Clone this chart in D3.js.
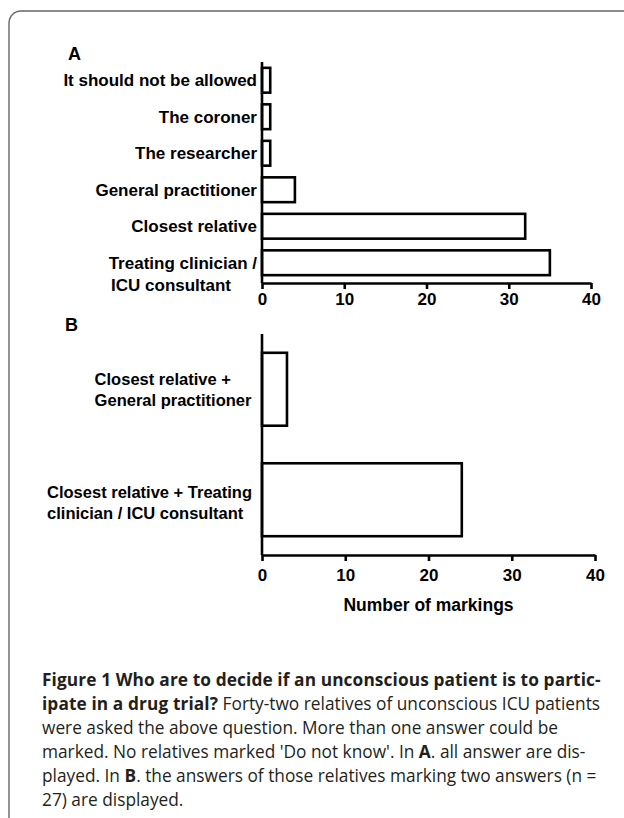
<!DOCTYPE html>
<html><head><meta charset="utf-8">
<script src="https://cdn.jsdelivr.net/npm/d3@7/dist/d3.min.js"></script>
<style>
html,body{margin:0;padding:0;background:#fff;}
svg{display:block;}
</style></head><body>
<svg id="chart" width="624" height="818"></svg>
<script>
// ---- data ----
const categoriesA = ["It should not be allowed","The coroner","The researcher","General practitioner","Closest relative","Treating clinician / ICU consultant"];
const labelLinesA = [["It should not be allowed"],["The coroner"],["The researcher"],["General practitioner"],["Closest relative"],["Treating clinician /","ICU consultant"]];
const valuesA = [1,1,1,4,32,35];
const categoriesB = ["Closest relative + General practitioner","Closest relative + Treating clinician / ICU consultant"];
const labelLinesB = [["Closest relative +","General practitioner"],["Closest relative + Treating","clinician / ICU consultant"]];
const valuesB = [3,24];
const xTicks = [0,10,20,30,40];
const xDomain = [0,40];
const panelLabels = ["A","B"];
const axisTitle = "Number of markings";
const captionLines = [
  [["Figure 1 Who are to decide if an unconscious patient is to partic-",true]],
  [["ipate in a drug trial?",true],[" Forty-two relatives of unconscious ICU patients",false]],
  [["were asked the above question. More than one answer could be",false]],
  [["marked. No relatives marked 'Do not know'. In ",false],["A",true],[". all answer are dis-",false]],
  [["played. In ",false],["B",true],[". the answers of those relatives marking two answers (n =",false]],
  [["27) are displayed.",false]]
];

// ---- drawing ----
const svg = d3.select("#chart");
const chartFont = "'Liberation Sans', Arial, Helvetica, sans-serif";
const capFont = "'Open Sans', 'Noto Sans', sans-serif";

// frame (rounded top-left corner)
svg.append("path")
  .attr("d", "M9,818 L9,23 A12,12 0 0 1 21,11 L624,11")
  .attr("fill","none").attr("stroke","#666").attr("stroke-width",1.4);

function drawPanel(opts){
  const g = svg.append("g");
  const x = d3.scaleLinear().domain(xDomain).range(opts.xRange);
  const y = d3.scaleBand().domain(opts.cats).range(opts.yRange)
    .paddingInner(opts.pad).paddingOuter(opts.pad/2);
  // bars
  g.selectAll("rect.bar").data(opts.vals).join("rect")
    .attr("class","bar")
    .attr("x", x(0))
    .attr("y", (d,i)=>y(opts.cats[i]))
    .attr("width", d=>x(d)-x(0))
    .attr("height", y.bandwidth())
    .attr("fill","#fff").attr("stroke","#000").attr("stroke-width",2.6);
  // y axis line
  g.append("line")
    .attr("x1", x(0)).attr("x2", x(0))
    .attr("y1", opts.yRange[0]).attr("y2", opts.axisY)
    .attr("stroke","#000").attr("stroke-width",2.6);
  // x axis
  const ax = g.append("g").attr("transform",`translate(0,${opts.axisY})`)
    .call(d3.axisBottom(x).tickValues(xTicks).tickSize(6).tickSizeOuter(0).tickPadding(opts.tickPad));
  ax.select(".domain").attr("stroke","#000").attr("stroke-width",2.6);
  ax.selectAll(".tick line").attr("stroke","#000").attr("stroke-width",2.6);
  ax.selectAll(".tick text").attr("fill","#000")
    .style("font-family",chartFont).style("font-weight","bold").style("font-size","17px");
  // labels
  const lg = g.selectAll("g.lab").data(opts.lines).join("g").attr("class","lab")
    .attr("transform",(d,i)=>`translate(0,${y(opts.cats[i]) + y.bandwidth()/2})`);
  lg.each(function(lines, i){
    opts.labelFn(d3.select(this), lines, i);
  });
  return {x,y};
}

function styleLab(sel, size){
  return sel.attr("fill","#000").style("font-family",chartFont).style("font-weight","bold")
    .style("font-size",size+"px");
}

// Panel A
drawPanel({
  cats: categoriesA, vals: valuesA, lines: labelLinesA,
  xRange:[262,591], yRange:[62,281], pad:0.32, axisY:283, tickPad:4,
  labelFn:(gg, lines)=>{
    lines.forEach((t,k)=>{
      styleLab(gg.append("text"),17)
        .attr("x", k===0 ? 257 : 231)
        .attr("y", 6 + 22*k)
        .attr("text-anchor","end")
        .text(t);
    });
  }
});

// Panel B
drawPanel({
  cats: categoriesB, vals: valuesB, lines: labelLinesB,
  xRange:[262,595], yRange:[334,555], pad:0.34, axisY:555, tickPad:8,
  labelFn:(gg, lines, i)=>{
    const n = lines.length;
    const inner = gg.append("g");
    lines.forEach((t,k)=>{
      styleLab(inner.append("text"),16.5)
        .attr("x",0)
        .attr("y", 6 + 2.5*i + 21*(k-(n-1)/2))
        .attr("text-anchor","start")
        .text(t);
    });
    const w = inner.node().getBBox().width;
    inner.attr("transform",`translate(${252-w},0)`);
  }
});

// panel letters
svg.selectAll("text.panel").data(panelLabels).join("text")
  .attr("class","panel")
  .attr("x",(d,i)=>[68,65][i]).attr("y",(d,i)=>[60,331][i])
  .attr("fill","#000").style("font-family",chartFont).style("font-weight","bold").style("font-size","18px")
  .text(d=>d);

// axis title
svg.append("text")
  .attr("x",(262+595)/2).attr("y",611)
  .attr("text-anchor","middle")
  .attr("fill","#000").style("font-family",chartFont).style("font-weight","bold")
  .style("font-size","17.5px")
  .text(axisTitle);

// caption
const cap = svg.append("g");
captionLines.forEach((parts,i)=>{
  const t = cap.append("text").attr("x",42).attr("y",686 + 24*i)
    .attr("fill","#231f20").style("font-family",capFont).style("font-size","17.3px")
    .attr("xml:space","preserve");
  parts.forEach(([s,b])=>{
    t.append("tspan").style("font-weight", b ? "bold" : "normal")
      .style("letter-spacing", b ? "0.1px" : "0px").text(s);
  });
});
</script>
</body></html>
